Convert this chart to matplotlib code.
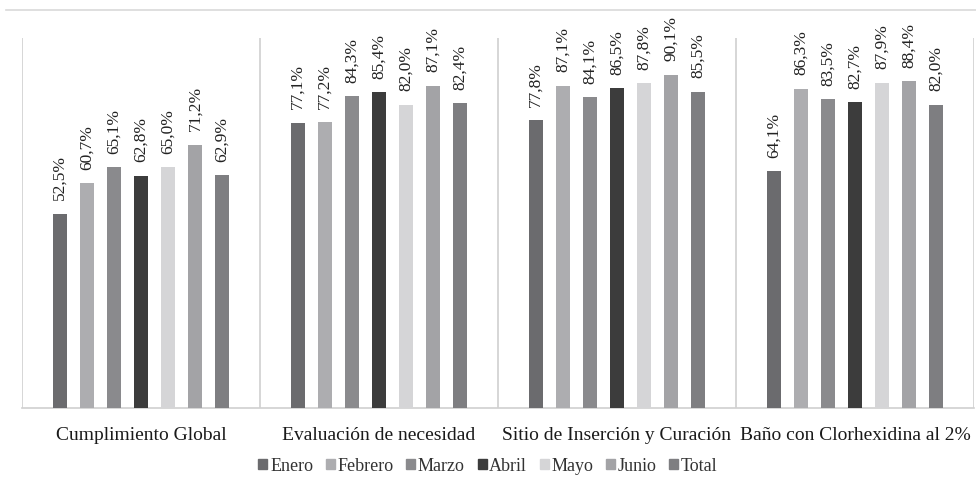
import numpy as np
import matplotlib.pyplot as plt
from matplotlib.lines import Line2D
from matplotlib.patches import Patch

plt.rcParams['font.family'] = ['Liberation Serif', 'DejaVu Serif']

categorias = ["Cumplimiento Global", "Evaluación de necesidad",
              "Sitio de Inserción y Curación", "Baño con Clorhexidina al 2%"]
meses = ["Enero", "Febrero", "Marzo", "Abril", "Mayo", "Junio", "Total"]
valores = {
    "Enero":   [52.5, 77.1, 77.8, 64.1],
    "Febrero": [60.7, 77.2, 87.1, 86.3],
    "Marzo":   [65.1, 84.3, 84.1, 83.5],
    "Abril":   [62.8, 85.4, 86.5, 82.7],
    "Mayo":    [65.0, 82.0, 87.8, 87.9],
    "Junio":   [71.2, 87.1, 90.1, 88.4],
    "Total":   [62.9, 82.4, 85.5, 82.0],
}
colores = ["#6b6b6e", "#adadb0", "#8a8a8d", "#3c3c3c", "#d5d5d7", "#a3a3a6", "#7e7e81"]

fig = plt.figure(figsize=(9.76, 4.86), dpi=100)
ax = fig.add_axes([22/976, 78/486, 952/976, 370/486])

x = np.arange(len(categorias))
paso = 0.1135
ancho = 0.059
for i, mes in enumerate(meses):
    pos = x + (i - 3) * paso
    ax.bar(pos, valores[mes], width=ancho, color=colores[i], label=mes, zorder=3)
    for p, v in zip(pos, valores[mes]):
        ax.text(p, v + 3.6, f"{v:.1f}%".replace(".", ","), rotation=90,
                ha="center", va="bottom", fontsize=12.5, color="#222222")

ax.set_xlim(-0.5, len(categorias) - 0.5)
ax.set_ylim(0, 100)
ax.set_yticks([])
ax.set_xticks(x)
ax.set_xticklabels(categorias, fontsize=14, color="#1a1a1a")
ax.tick_params(axis="x", length=0, pad=14)
for s in ["top", "right", "left"]:
    ax.spines[s].set_visible(False)
ax.spines["bottom"].set_color("#d0d0d0")
ax.spines["bottom"].set_linewidth(1.2)

# separadores entre grupos
for b in np.arange(-0.5, len(categorias), 1.0):
    ax.axvline(b, color="#d0d0d0", lw=1.2, zorder=1)

# linea superior del recuadro
fig.add_artist(Line2D([6/976, 1.0], [1 - 10/486, 1 - 10/486], color="#d9d9d9", lw=1.2))

handles = [Patch(color=c, label=m) for c, m in zip(colores, meses)]
leg = fig.legend(handles=handles, loc="center", bbox_to_anchor=(0.5, 1 - 466/486), ncol=7,
                 frameon=False, fontsize=13, handlelength=0.5, handleheight=0.5,
                 handletextpad=0.15, columnspacing=0.7)
for t in leg.get_texts():
    t.set_color("#333333")

fig.savefig("out.png", dpi=100)
